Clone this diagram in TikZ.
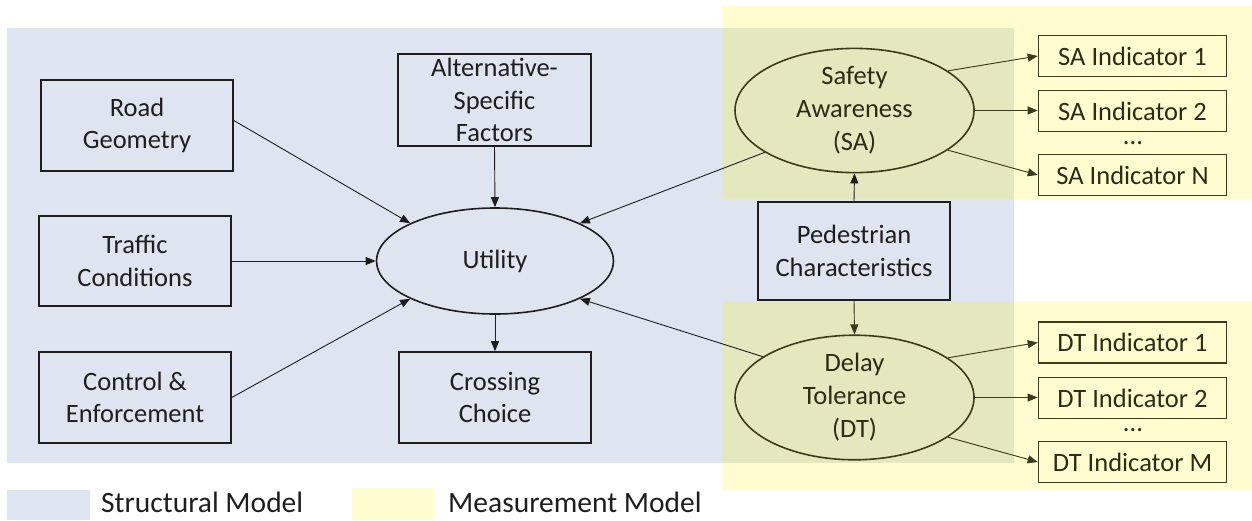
\documentclass[tikz,border=0pt]{standalone}
\usepackage{fontspec}
\setmainfont{Carlito}
\usetikzlibrary{shapes.geometric,arrows.meta}
\definecolor{bluebg}{HTML}{DEE5F1}
\definecolor{yellowbg}{HTML}{FFFDD0}
\definecolor{overlapbg}{HTML}{E4E8BE}
\definecolor{inkdark}{HTML}{1E1E1E}
\definecolor{olive}{HTML}{3C3C1C}
\definecolor{olivetext}{HTML}{2C2C14}
\tikzset{
  box/.style={draw=inkdark, line width=1.6pt, rectangle, inner sep=0pt, align=center,
    text=inkdark, font=\fontsize{26.5}{32.5}\selectfont},
  ybox/.style={box, draw=olive, text=olivetext},
  oval/.style={draw=inkdark, line width=1.6pt, ellipse, inner sep=0pt, align=center,
    text=inkdark, font=\fontsize{26.5}{33}\selectfont},
  yoval/.style={oval, draw=olive, text=olivetext},
  arr/.style={draw=inkdark, line width=0.9pt, -{Triangle[length=10pt,width=8pt]}},
  yarr/.style={arr, draw=olive, fill=olive},
  dotsnode/.style={inner sep=0pt, text=olivetext, font=\fontsize{26.5}{32.5}\selectfont},
  legendtext/.style={inner sep=0pt, anchor=base west, text=inkdark, font=\fontsize{29.5}{35}\selectfont}
}
\begin{document}
\begin{tikzpicture}[x=1pt,y=-1pt]
\useasboundingbox (0,0) rectangle (1252,520);
% backgrounds
\fill[bluebg] (7,28) rectangle (1014,463);
\fill[yellowbg] (722,6) rectangle (1252,199);
\fill[yellowbg] (722,301) rectangle (1252,490);
\fill[overlapbg] (722,28) rectangle (1014,199);
\fill[overlapbg] (722,301) rectangle (1014,463);
% legend
\fill[bluebg] (7,490) rectangle (90,520);
\fill[yellowbg] (352,488) rectangle (433,520);
\node[legendtext] (lgS) at (101,512) {Structural Model};
\node[legendtext] (lgM) at (448,512) {Measurement Model};
% structural nodes
\node[box, minimum width=192pt, minimum height=91pt] (RG) at (137,125.5) {Road\\Geometry};
\node[box, minimum width=192pt, minimum height=90pt] (TC) at (135,261) {Traffic\\Conditions};
\node[box, minimum width=192pt, minimum height=91pt] (CE) at (135,397.5) {Control \&\\Enforcement};
\node[box, minimum width=193pt, minimum height=92pt] (AF) at (494.5,100) {Alternative-\\Specific\\Factors};
\node[oval, minimum width=237pt, minimum height=106pt] (U) at (495,261) {Utility};
\node[box, minimum width=192pt, minimum height=91pt] (CC) at (495,397.5) {Crossing\\Choice};
\node[box, minimum width=192pt, minimum height=98pt] (PC) at (854,251) {Pedestrian\\Characteristics};
% measurement nodes
\node[yoval, minimum width=239pt, minimum height=105pt] (SA) at (854.5,110.5) {Safety\\Awareness\\(SA)};
\node[yoval, minimum width=239pt, minimum height=107pt] (DT) at (854.5,397.5) {Delay\\Tolerance\\(DT)};
\node[ybox, minimum width=188pt, minimum height=41pt] (SA1) at (1132.5,56) {SA Indicator 1};
\node[ybox, minimum width=188pt, minimum height=41pt] (SA2) at (1132.5,111) {SA Indicator 2};
\node[dotsnode] (SAd) at (1133,143) {...};
\node[ybox, minimum width=188pt, minimum height=41pt] (SAN) at (1132.5,175) {SA Indicator N};
\node[ybox, minimum width=188pt, minimum height=41pt] (DT1) at (1132.5,342.5) {DT Indicator 1};
\node[ybox, minimum width=188pt, minimum height=41pt] (DT2) at (1132.5,398) {DT Indicator 2};
\node[dotsnode] (DTd) at (1133,430) {...};
\node[ybox, minimum width=188pt, minimum height=41pt] (DTM) at (1132.5,462) {DT Indicator M};
% connectors
\draw[arr] ([yshift=5pt]RG.east) -- (U.156);
\draw[arr] (TC.east) -- (U.west);
\draw[arr] (CE.east) -- (U.204);
\draw[arr] (AF.south) -- (U.north);
\draw[arr] (U.south) -- (CC.north);
\draw[arr] (SA.205) -- (U.24);
\draw[arr] (DT.156) -- (U.336);
\draw[arr] (PC.north) -- (SA.south);
\draw[yarr] (PC.south) -- (DT.north);
\draw[yarr] (SA.23) -- (SA1.west);
\draw[yarr] (SA.east) -- (SA.east -| SA2.west);
\draw[yarr] (SA.337) -- (SAN.west);
\draw[yarr] (DT.23) -- (DT1.west);
\draw[yarr] (DT.east) -- (DT.east -| DT2.west);
\draw[yarr] (DT.337) -- (DTM.west);
\end{tikzpicture}
\end{document}
